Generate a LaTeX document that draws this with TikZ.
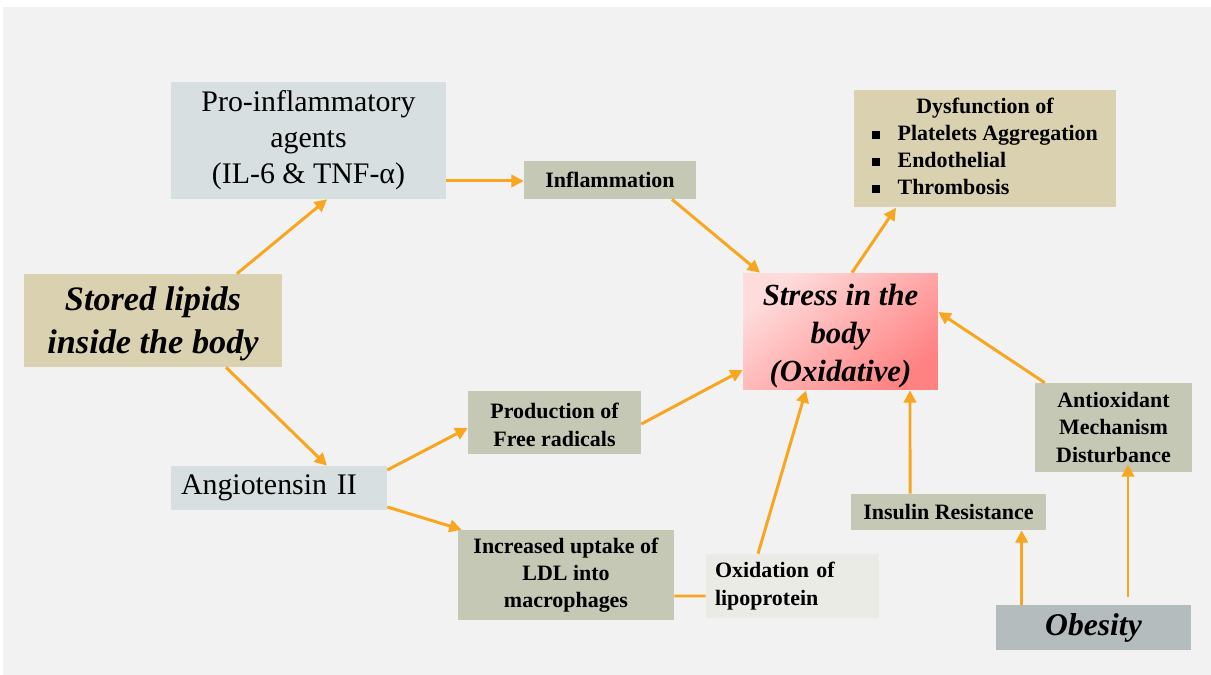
\documentclass[tikz,border=0pt]{standalone}
\usepackage{fontspec}
\setmainfont{Liberation Serif}
\usepackage{tikz}
\usetikzlibrary{arrows.meta}
\usepackage{xcolor}

\definecolor{bggray}{HTML}{F2F2F2}
\definecolor{bluegray}{HTML}{D7DFE1}
\definecolor{olivegray}{HTML}{C5C8B5}
\definecolor{tanbox}{HTML}{D9D1AF}
\definecolor{lightbox}{HTML}{EBEBE5}
\definecolor{obesgray}{HTML}{B5BCBE}
\definecolor{pinklight}{HTML}{FFDCDC}
\definecolor{pinkdark}{HTML}{FF8283}
\definecolor{arrorange}{HTML}{F8A51F}

\begin{document}
\begin{tikzpicture}[x=0.02cm, y=-0.02cm,
    box/.style={inner sep=0pt, align=center, text=black},
    boldbox/.style={box, fill=olivegray, font=\fontsize{12.5}{15.5}\selectfont\bfseries},
    arr/.style={draw=arrorange, line width=1.7pt, -{Triangle[length=7pt, width=7pt]}},
    link/.style={draw=arrorange, line width=1.7pt}]

  % background
  \useasboundingbox (0,0) rectangle (1211,675);
  \fill[white] (0,0) rectangle (1211,675);
  \fill[bggray] (3,7) rectangle (1211,675);

  % nodes
  \node[box, fill=bluegray, minimum width=5.5cm, minimum height=2.34cm,
        font=\fontsize{17}{20.5}\selectfont] (pro) at (308.5,140.5)
    {Pro-inflammatory\\agents\\(IL-6 \& TNF-α)};
  \node[boldbox, minimum width=3.44cm, minimum height=0.76cm] (infl) at (610,180)
    {Inflammation};
  \node[box, fill=tanbox, minimum width=5.24cm, minimum height=2.36cm,
        font=\fontsize{12.5}{15.5}\selectfont\bfseries] (dysf) at (985,148.5)
    {\begin{tabular}{@{}l@{\hspace{10pt}}l@{}}
       \multicolumn{2}{c}{Dysfunction of}\\
       \rule[1pt]{4.5pt}{4.5pt} & Platelets Aggregation\\
       \rule[1pt]{4.5pt}{4.5pt} & Endothelial\\
       \rule[1pt]{4.5pt}{4.5pt} & Thrombosis
     \end{tabular}};
  \node[box, fill=tanbox, minimum width=5.16cm, minimum height=1.86cm,
        font=\fontsize{19.5}{24.5}\selectfont\bfseries\itshape] (lipids) at (153,320.5)
    {\rule{0pt}{17pt}Stored lipids\\inside the body};
  \node[box, top color=pinklight, bottom color=pinkdark, shading angle=40,
        minimum width=3.9cm, minimum height=2.34cm,
        font=\fontsize{17.5}{21.5}\selectfont\bfseries\itshape] (stress) at (840.5,331.5)
    {\rule{0pt}{17.5pt}Stress in the\\body\\(Oxidative)};
  \node[boldbox, minimum width=3.46cm, minimum height=1.26cm] (prod) at (554.5,422.5)
    {\rule{0pt}{11.5pt}Production of\\Free radicals};
  \node[box, fill=bluegray, minimum width=4.32cm, minimum height=0.88cm,
        font=\fontsize{17}{20.5}\selectfont, text width=3.92cm, align=left] (angio) at (279,488)
    {Angiotensin II};
  \node[boldbox, minimum width=4.32cm, minimum height=1.8cm] (uptake) at (566,575)
    {Increased uptake of\\LDL into\\macrophages};
  \node[boldbox, fill=lightbox, minimum width=3.46cm, minimum height=1.28cm,
        text width=3.1cm, align=left] (oxid) at (792.5,586)
    {Oxidation of\\lipoprotein};
  \node[boldbox, minimum width=3.9cm, minimum height=0.72cm] (insulin) at (948.5,512)
    {Insulin Resistance};
  \node[boldbox, minimum width=3.14cm, minimum height=1.78cm] (antiox) at (1113.5,427.5)
    {Antioxidant\\Mechanism\\Disturbance};
  \node[box, fill=obesgray, minimum width=3.9cm, minimum height=0.9cm,
        font=\fontsize{18}{22}\selectfont\bfseries\itshape] (obesity) at (1093.5,627.5)
    {Obesity};

  % connectors
  \draw[arr] ([xshift=1.68cm]lipids.north) -- ([xshift=0.37cm]pro.south);
  \draw[arr] ([yshift=-0.81cm]pro.east) -- ([yshift=-0.81cm]pro.east -| infl.west);
  \draw[arr] ([xshift=1.24cm]infl.south) -- ([xshift=-1.61cm]stress.north);
  \draw[arr] ([xshift=0.23cm]stress.north) -- ([xshift=-1.78cm]dysf.south);
  \draw[arr] ([xshift=1.46cm]lipids.south) -- ([xshift=0.96cm]angio.north);
  \draw[arr] ([yshift=0.36cm]angio.east) -- ([yshift=-0.11cm]prod.west);
  \draw[arr] ([yshift=-0.03cm]prod.east) -- ([yshift=-0.77cm]stress.west);
  \draw[arr] ([yshift=-0.38cm]angio.east) -- ([xshift=0.08cm]uptake.north west);
  \draw[link] ([yshift=-0.42cm]uptake.east) -- ([yshift=-0.2cm]oxid.west);
  \draw[arr] ([xshift=-0.69cm]oxid.north) -- ([xshift=-0.69cm]stress.south);
  \draw[arr] ([xshift=-0.77cm]insulin.north) -- ([xshift=1.39cm]stress.south);
  \draw[arr] ([xshift=0.2cm]antiox.north west) -- ([yshift=0.39cm]stress.east);
  \draw[arr] ([xshift=0.52cm]obesity.north west) -- ([xshift=0.52cm]obesity.north west |- insulin.south);
  \draw[arr] ([xshift=0.69cm,yshift=0.16cm]obesity.north) -- ([xshift=0.69cm,yshift=0.16cm]obesity.north |- antiox.south);
\end{tikzpicture}
\end{document}
